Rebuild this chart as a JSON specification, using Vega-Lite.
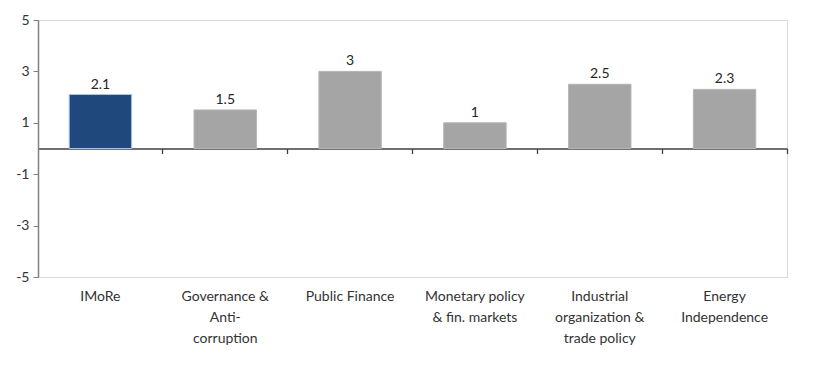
{
  "$schema": "https://vega.github.io/schema/vega-lite/v6.json",
  "width": 749,
  "height": 257,
  "autosize": "none",
  "padding": {"left": 38, "top": 20, "right": 53, "bottom": 96},
  "background": "white",
  "config": {
    "view": {"stroke": "#d9d9d9", "strokeWidth": 1},
    "font": "Lato"
  },
  "data": {
    "values": [
      {"category": "IMoRe", "value": 2.1, "group": "main"},
      {"category": "Governance & Anti-corruption", "value": 1.5, "group": "other"},
      {"category": "Public Finance", "value": 3, "group": "other"},
      {"category": "Monetary policy & fin. markets", "value": 1, "group": "other"},
      {"category": "Industrial organization & trade policy", "value": 2.5, "group": "other"},
      {"category": "Energy Independence", "value": 2.3, "group": "other"}
    ]
  },
  "layer": [
    {
      "mark": {"type": "bar", "strokeWidth": 1},
      "encoding": {
        "x": {
          "field": "category",
          "type": "nominal",
          "sort": null,
          "scale": {"paddingInner": 0.5, "paddingOuter": 0.25},
          "axis": {
            "title": null,
            "domain": true,
            "domainColor": "#d9d9d9",
            "ticks": false,
            "labelAngle": 0,
            "labelFontSize": 14,
            "labelColor": "#333333",
            "labelPadding": 12,
            "labelLineHeight": 21,
            "labelBaseline": "top",
            "labelLimit": 0,
            "labelExpr": "{'Governance & Anti-corruption': ['Governance &', 'Anti-', 'corruption'], 'Monetary policy & fin. markets': ['Monetary policy', '& fin. markets'], 'Industrial organization & trade policy': ['Industrial', 'organization &', 'trade policy'], 'Energy Independence': ['Energy', 'Independence']}[datum.value] || datum.value"
          }
        },
        "y": {
          "field": "value",
          "type": "quantitative",
          "scale": {"domain": [-5, 5], "nice": false, "zero": false},
          "axis": {
            "title": null,
            "values": [5, 3, 1, -1, -3, -5],
            "labelExpr": "datum.value + ''",
            "grid": false,
            "domainColor": "#808080",
            "domainWidth": 1.5,
            "tickColor": "#808080",
            "tickSize": 5,
            "labelFontSize": 14,
            "labelColor": "#333333",
            "labelPadding": 4
          }
        },
        "color": {
          "field": "group",
          "type": "nominal",
          "scale": {"domain": ["main", "other"], "range": ["#1f497d", "#a5a5a5"]},
          "legend": null
        },
        "stroke": {
          "field": "group",
          "type": "nominal",
          "scale": {"domain": ["main", "other"], "range": ["#a9c4e4", "#b5b5b5"]},
          "legend": null
        }
      }
    },
    {
      "mark": {"type": "text", "baseline": "bottom", "dy": -3, "fontSize": 14, "color": "#262626"},
      "encoding": {
        "x": {"field": "category", "type": "nominal", "sort": null, "axis": null},
        "y": {"field": "value", "type": "quantitative", "title": null},
        "text": {"field": "value", "type": "quantitative"}
      }
    },
    {
      "mark": {"type": "rule", "color": "#404040", "strokeWidth": 1.3},
      "encoding": {
        "y": {"datum": 0, "title": null},
        "x": {
          "field": "category",
          "type": "nominal",
          "sort": null,
          "axis": {
            "title": null,
            "orient": "bottom",
            "offset": -128.5,
            "labels": false,
            "domain": true,
            "domainColor": "#404040",
            "domainWidth": 1.3,
            "ticks": true,
            "bandPosition": 1.5,
            "tickColor": "#404040",
            "tickSize": 5,
            "tickWidth": 1.3
          }
        }
      }
    }
  ],
  "resolve": {"axis": {"x": "independent"}}
}
